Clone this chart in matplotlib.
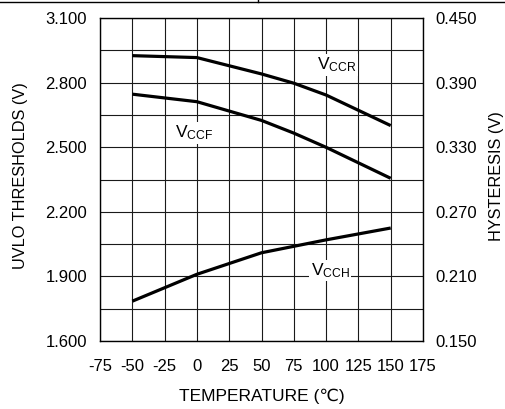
import matplotlib
matplotlib.use("Agg")
import matplotlib.pyplot as plt
from matplotlib.lines import Line2D

plt.rcParams['font.family'] = ['Liberation Sans', 'DejaVu Sans']
plt.rcParams['mathtext.default'] = 'regular'

temps = [-50, 0, 50, 75, 100, 150]
vccr = [2.926, 2.917, 2.841, 2.798, 2.743, 2.601]
vccf = [2.747, 2.712, 2.625, 2.566, 2.500, 2.356]
vcch_t = [-50, 0, 50, 100, 150]
vcch = [0.187, 0.212, 0.232, 0.244, 0.255]

xticks = [-75, -50, -25, 0, 25, 50, 75, 100, 125, 150, 175]
left_ticks = [1.6, 1.9, 2.2, 2.5, 2.8, 3.1]
right_ticks = [0.15, 0.21, 0.27, 0.33, 0.39, 0.45]

W, H = 506, 409
fig = plt.figure(figsize=(W/100, H/100), dpi=100)
ax = fig.add_axes([100/W, 1-341/H, 323/W, (341-18.2)/H])
ax.set_xlim(-75, 175)
ax.set_ylim(1.6, 3.1)
ax.set_xticks(xticks)
ax.set_xticklabels([str(t) for t in xticks])
ax.set_yticks(left_ticks)
ax.set_yticklabels(['%.3f' % v for v in left_ticks])
ax.set_yticks([1.6 + 0.15*i for i in range(11)], minor=True)
ax.tick_params(which='both', length=0, labelsize=12)
ax.tick_params(axis='x', pad=13)
ax.tick_params(axis='y', pad=9.4)
ax.grid(True, which='both', color='#1a1a1a', lw=0.8)
ax.set_axisbelow(True)
for s in ax.spines.values():
    s.set_color('black'); s.set_linewidth(1.0)

ax.plot(temps, vccr, color='black', lw=2.3, solid_capstyle='butt')
ax.plot(temps, vccf, color='black', lw=2.3, solid_capstyle='butt')

ax2 = ax.twinx()
ax2.set_ylim(0.15, 0.45)
ax2.set_yticks(right_ticks)
ax2.set_yticklabels(['%.3f' % v for v in right_ticks])
ax2.tick_params(length=0, labelsize=12, pad=8.6)
ax2.plot(vcch_t, vcch, color='black', lw=2.3, solid_capstyle='butt')
for s in ax2.spines.values():
    s.set_visible(False)

bb = dict(facecolor='white', edgecolor='none', pad=1)
ax2.text(92.7, 0.45 - (65-18.2)/32.3*0.03, r'V$_{CCR}$', fontsize=12.5, va='center', ha='left', bbox=bb)
ax2.text(-17, 0.45 - (133-18.2)/32.3*0.03, r'V$_{CCF}$', fontsize=12.5, va='center', ha='left', bbox=bb)
ax2.text(88, 0.45 - (270.7-18.2)/32.3*0.03, r'V$_{CCH}$', fontsize=12.5, va='center', ha='left', bbox=bb)

fig.text(261.5/W, 1-396/H, 'TEMPERATURE (℃)', fontsize=12.5, ha='center', va='center')
fig.text(21/W, 1-176/H, 'UVLO THRESHOLDS (V)', fontsize=11.7, ha='center', va='center', rotation=90)
fig.text(497/W, 1-176/H, 'HYSTERESIS (V)', fontsize=11.7, ha='center', va='center', rotation=90)

fig.add_artist(Line2D([0, 1], [1-2/H, 1-2/H], color='black', lw=1.0, transform=fig.transFigure))
fig.add_artist(Line2D([258/W, 258/W], [1-2/H, 1], color='black', lw=1.0, transform=fig.transFigure))

fig.savefig('out.png', dpi=100)
